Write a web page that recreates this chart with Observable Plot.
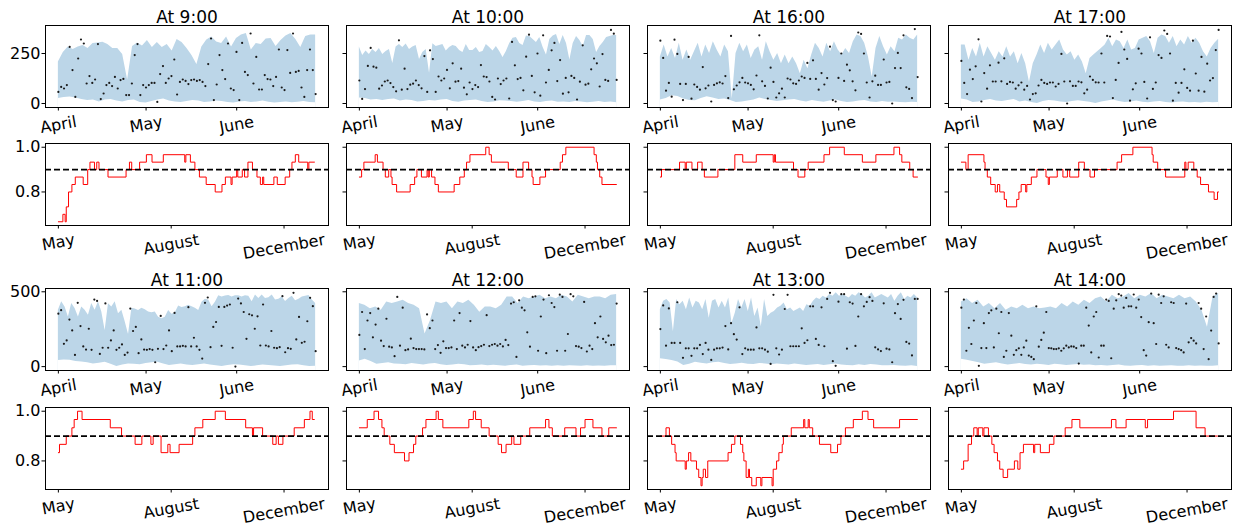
<!DOCTYPE html>
<html><head><meta charset="utf-8">
<script src="https://cdn.jsdelivr.net/npm/d3@7"></script>
<script src="https://cdn.jsdelivr.net/npm/@observablehq/plot@0.6"></script>
<style>
body{margin:0;background:#fff;}
#fig{position:relative;width:1239px;height:532px;overflow:hidden;font-family:"DejaVu Sans";background:#fff;}
#fig svg{position:absolute;overflow:visible;}
</style></head><body><div id="fig"></div>
<script>
// ---------- tick labels ----------
const monthTicks = [0, 30, 61];
const monthLabels = ["April", "May", "June"];
const covTicks = [0, 100, 200];
const covLabels = ["May", "August", "December"];
const bandTitlesTop = ["At 9:00", "At 10:00", "At 16:00", "At 17:00"];
const bandTitlesBottom = ["At 11:00", "At 12:00", "At 13:00", "At 14:00"];
const yTicksTop = [0, 250];
const yTicksBottom = [0, 500];
const covYTicks = [0.8, 1.0];
const covYLabels = ["0.8", "1.0"];
const lastDay = 88;

// ---------- band upper / lower and observed points (counts) ----------
const up900 = [208,255,283,270,283,290,275,300,303,306,295,275,275,245,117,285,302,288,315,280,305,280,295,262,320,305,275,240,195,283,317,333,308,300,333,283,325,342,350,267,300,295,322,325,285,315,338,350,320,280,335,342,342];
const lo900 = [25,30,33,28,20,15,18,8,17,20,12,8,15,17,5,2,10,18,22,12,8,5,10,15,12,5,8,12,10,5,3,8,10,5,8,12,6,3,5,8,4,6,10,5,4];
const pt900 = [58,83,75,92,283,167,33,225,320,300,100,137,103,120,297,22,50,92,103,87,133,75,117,123,42,42,100,242,297,42,92,80,92,103,103,8,147,187,103,125,137,220,45,108,120,113,97,117,120,113,117,108,87,197,325,17,95,242,167,122,300,75,67,258,17,303,158,142,350,100,233,70,70,142,122,120,87,133,270,80,67,267,153,350,158,163,80,33,167,270,167,47];

const up1000 = [283,240,262,245,270,255,275,245,260,270,200,283,295,280,297,270,282,290,220,255,270,151,299,285,290,295,262,280,290,285,265,255,295,265,265,280,255,260,295,280,262,285,260,230,260,300,326,330,300,290,338,335,320,305,330,280,242,320,338,345,295,340,300,217,300,335,315,285,340,340,320,255,285,305,330,335,340,340];
const lo1000 = [28,25,18,20,15,20,22,12,18,15,8,10,15,12,18,20,10,6,12,15,18,10,5,8,14,12,10,6,10,15,8,5,10,12,6,8,5,10,8,4,6,10,5,8,4];
const pt1000 = [115,23,72,188,278,184,179,74,90,110,115,102,82,61,316,69,174,72,94,99,115,92,76,237,58,266,222,58,135,115,125,168,76,201,109,112,174,79,46,105,72,92,82,192,135,132,110,33,20,125,97,115,125,25,308,191,122,128,66,234,344,138,56,250,39,341,105,168,266,303,112,217,49,128,56,138,128,20,109,291,94,99,171,225,201,85,247,118,113,368,349,118];

const up1600 = [233,292,233,275,225,301,216,267,216,259,301,233,292,250,309,267,233,292,259,22,250,301,259,292,225,267,284,216,309,259,216,250,199,242,199,233,199,149,216,174,242,301,275,233,301,259,309,267,242,275,250,309,343,335,301,233,132,275,335,284,242,284,259,326,318,343,326,318,343];
const lo1600 = [17,25,39,35,22,15,14,25,34,28,20,22,15,5,8,12,18,27,20,15,10,14,18,20,12,8,15,10,6,12,18,10,5,8,12,15,8,5,10,6,8,5,4,6,5];
const pt1600 = [314,228,64,103,34,319,248,98,17,98,233,24,95,83,69,182,76,90,10,93,101,106,100,137,27,338,71,90,106,128,105,101,93,71,140,341,111,88,25,179,108,30,51,74,30,125,120,101,98,115,135,128,203,123,216,123,69,152,95,127,284,17,10,128,250,113,194,166,111,66,355,348,250,105,30,111,139,93,93,220,105,108,0,177,253,177,341,81,73,27,372,132];

const up1700 = [292,292,216,275,233,301,233,284,250,216,259,233,284,233,259,199,250,199,106,199,242,292,250,301,267,292,318,267,242,259,216,242,208,149,225,242,259,275,292,326,284,318,309,275,318,267,275,318,326,335,309,250,326,343,335,301,335,284,318,292,335,301,326,301,259,233,275,301,321];
const lo1700 = [22,18,5,8,15,20,12,10,15,20,8,12,5,0,10,15,12,8,5,10,14,10,6,0,8,12,18,10,5,8,12,6,4,8,10,5,3,6,8,4,5,3,6,4,5];
const pt1700 = [213,103,47,169,122,186,321,10,152,74,191,110,110,204,111,226,98,108,105,74,91,105,69,88,20,47,51,90,118,103,98,105,105,85,98,248,110,0,111,88,88,110,106,51,69,135,118,106,105,250,105,338,335,27,118,203,358,270,223,14,71,101,274,250,108,25,331,73,105,242,228,365,348,250,14,103,54,103,171,78,64,314,150,64,233,59,199,115,127,267,368];

const up1100 = [377,433,399,332,422,388,332,399,377,343,422,377,433,365,242,420,399,433,354,377,300,215,390,385,375,390,380,365,360,365,330,320,330,375,350,360,405,395,400,410,400,390,375,430,450,445,400,430,474,466,472,476,466,474,474,466,474,470,433,478,455,478,455,460,478,445,450,466,435,455,470,440,450,466,470,475,445,422];
const lo1100 = [40,45,42,34,30,25,18,22,29,15,0,10,18,15,13,20,25,29,18,7,12,18,10,7,12,18,10,5,0,8,13,10,6,0,5,10,7,4,0,5,10,13,6,0,3];
const pt1100 = [354,377,152,175,314,242,78,426,271,135,114,253,112,448,439,85,126,422,126,175,242,112,126,148,78,94,388,238,265,90,182,114,112,117,112,29,119,339,117,141,242,103,359,135,135,139,135,397,135,193,135,112,54,426,462,130,265,298,399,139,399,408,415,126,0,455,422,365,186,350,343,253,336,141,415,141,135,238,126,123,130,471,96,123,119,493,182,332,159,166,303,460,404,103];

const up1200 = [421,410,387,398,376,432,421,432,443,421,410,387,218,308,432,421,432,387,432,421,443,410,364,398,398,387,410,466,466,421,466,454,466,477,454,466,454,477,466,432,477,466,454,466,466,454,477,482];
const lo1200 = [38,50,34,16,20,25,18,16,12,20,15,11,18,20,12,7,10,16,12,5,8,10,5,9,6,3,8,10,2,5,7,4,6,2,5,3,6,4,2,5,3,4,2,5,5];
const pt1200 = [212,365,117,308,358,196,281,387,173,137,320,133,128,70,466,140,394,110,115,187,124,117,117,117,115,349,257,308,117,144,92,169,124,124,128,308,117,358,140,128,146,304,128,110,130,137,146,344,137,146,151,140,151,135,178,144,421,430,65,443,394,376,229,133,466,470,106,335,448,90,477,425,398,106,481,466,106,218,484,470,137,133,124,432,101,140,117,290,196,335,185,162,207,144,146,421];

const up1300 = [380,437,448,425,233,448,414,437,380,459,391,437,425,380,448,323,437,448,391,437,391,459,290,357,448,391,448,369,459,335,391,267,448,335,357,369,391,403,425,380,391,369,380,391,369,414,403,437,459,448,470,459,482,470,493,470,482,470,459,482,470,493,482,459,470,493,459,470,482,470,459,482,437,470,493,448,470,459,482,459];
const lo1300 = [52,48,41,30,7,15,29,22,18,25,29,20,14,18,23,16,14,20,18,12,18,14,10,18,12,7,10,14,8,12,18,10,7,5,12,8,14,10,6,5,8,4,3,5,0];
const pt1300 = [251,409,140,389,158,158,430,158,59,122,122,72,122,122,145,84,158,113,45,113,122,122,127,271,115,290,217,181,396,84,122,113,113,113,262,122,122,113,100,18,480,122,81,113,385,480,136,136,136,136,256,158,176,403,403,185,145,396,136,452,493,36,5,434,484,484,120,430,421,138,335,484,403,432,464,439,129,115,104,423,120,115,29,357,418,319,446,165,154,75,452,452];

const up1400 = [432,454,421,443,398,421,387,421,376,398,387,410,387,398,387,392,398,387,421,398,432,410,443,421,454,466,432,477,454,466,488,454,477,466,488,454,477,466,454,477,454,466,432,376,263,466,488];
const lo1400 = [50,42,34,25,16,20,25,18,11,15,20,14,11,16,12,8,16,12,7,10,14,9,11,6,8,4,7,10,4,2,6,7,3,5,2,4,6,2,3,5,2,4,3,2,5];
const pt1400 = [394,448,106,259,151,308,425,5,124,290,124,358,376,128,387,223,365,65,106,358,207,79,110,122,79,128,173,74,65,50,403,133,178,227,365,124,122,117,117,122,106,122,140,128,135,133,124,20,140,140,394,274,95,335,365,61,140,140,448,439,56,387,443,484,475,394,459,403,403,482,394,448,331,110,74,297,488,290,151,481,425,470,146,128,430,425,124,117,110,95,421,162,191,173,155,425,387,117,335,50,241,466,488,155];

// ---------- rolling coverage: [index where level starts, level in 30ths] ----------
const cov900 = [[0,20],[4,21],[6,20],[7,22],[9,24],[12,25],[15,26],[22,25],[26,27],[28,28],[32,27],[34,28],[36,27],[44,26],[60,27],[63,28],[65,27],[72,28],[78,29],[83,28],[93,29],[112,28],[113,29],[117,28],[121,27],[125,26],[131,25],[139,24],[145,25],[148,26],[153,25],[154,26],[158,27],[159,26],[163,27],[165,26],[168,28],[172,27],[176,26],[179,25],[181,26],[182,25],[191,26],[194,25],[201,26],[205,27],[207,28],[210,29],[213,28],[221,27],[222,28],[227,28]];
const cov1000 = [[0,26],[2,27],[4,28],[14,29],[16,28],[21,27],[23,26],[26,27],[28,26],[29,25],[33,24],[45,25],[49,26],[51,27],[55,26],[60,27],[61,26],[62,27],[64,26],[67,25],[70,24],[84,25],[89,26],[93,27],[95,28],[98,29],[112,30],[115,29],[117,28],[132,27],[139,26],[145,28],[150,27],[153,26],[154,25],[160,26],[165,27],[178,28],[180,29],[183,30],[208,29],[210,28],[211,27],[213,26],[215,25],[228,25]];
const cov1600 = [[0,26],[1,27],[17,28],[22,27],[23,28],[28,27],[33,28],[37,27],[39,26],[51,27],[66,29],[73,28],[85,29],[100,28],[101,29],[102,28],[118,27],[122,26],[128,27],[131,28],[145,29],[150,30],[163,29],[179,28],[191,29],[207,30],[212,29],[214,28],[221,27],[224,26],[228,26]];
const cov1700 = [[0,28],[4,27],[6,29],[20,28],[21,27],[23,26],[26,25],[30,24],[32,25],[34,24],[38,23],[40,22],[49,23],[51,24],[53,25],[57,24],[58,25],[62,26],[67,27],[75,26],[77,25],[78,26],[85,27],[90,26],[94,27],[96,26],[104,28],[109,27],[114,26],[118,27],[138,28],[142,29],[152,30],[169,29],[170,28],[174,27],[181,26],[198,28],[199,27],[201,28],[206,27],[209,26],[212,25],[219,24],[224,23],[227,24],[228,24]];
const cov1100 = [[0,25],[1,26],[7,27],[12,28],[14,29],[17,30],[21,29],[46,28],[56,27],[68,26],[74,27],[82,26],[84,27],[91,25],[97,26],[99,25],[107,26],[119,27],[121,28],[128,29],[139,30],[148,29],[166,28],[172,27],[173,28],[181,27],[190,26],[193,27],[195,26],[199,27],[209,28],[218,29],[223,30],[225,29],[227,29]];
const cov1200 = [[0,28],[7,29],[13,30],[17,29],[20,28],[22,27],[27,26],[31,25],[40,24],[44,25],[48,26],[50,27],[56,28],[59,29],[68,30],[70,29],[74,28],[97,29],[101,30],[103,29],[108,28],[115,27],[123,26],[126,25],[130,26],[135,27],[137,26],[143,27],[151,28],[165,29],[168,28],[171,27],[182,28],[192,27],[196,28],[200,29],[207,28],[215,27],[221,28],[228,28]];
const cov1300 = [[0,27],[5,28],[8,27],[10,26],[13,25],[14,24],[22,23],[23,24],[25,25],[27,24],[32,23],[34,22],[36,21],[37,22],[38,23],[40,22],[42,24],[60,25],[63,26],[66,27],[71,26],[73,25],[74,24],[76,22],[78,23],[79,22],[81,21],[85,22],[89,21],[90,22],[99,21],[100,23],[103,24],[105,25],[108,26],[109,27],[116,28],[127,29],[128,28],[131,29],[132,28],[135,27],[141,26],[151,25],[157,26],[160,27],[164,28],[171,29],[179,30],[184,29],[189,28],[212,29],[228,29]];
const cov1400 = [[0,23],[2,24],[6,26],[9,27],[11,28],[14,27],[15,28],[19,27],[20,28],[24,27],[27,26],[29,25],[32,24],[34,23],[37,22],[41,23],[47,24],[50,23],[52,25],[55,26],[64,25],[65,26],[70,25],[78,26],[82,27],[92,28],[98,29],[105,28],[133,29],[137,28],[146,29],[163,28],[165,29],[188,30],[208,28],[216,27],[227,27]];
const target = 0.9;

// ---------- layout ----------
const fig = document.getElementById("fig");
const colLeft = [45, 346, 647, 948];
const rowTop = [25, 143, 288, 407];
const boxW = 283, boxH = 82;
const ML = 60, MR = 10, MT = 30, MB = 50;
const FONT = "DejaVu Sans";

const ctx = document.createElement("canvas").getContext("2d");
ctx.font = `16px "${FONT}"`;
const rot = 10 * Math.PI / 180;
function labelDy(s) {
  const w = ctx.measureText(s).width;
  return 5 + (18.6 * Math.cos(rot) + w * Math.sin(rot)) / 2;
}

function spread(arr) {
  return arr.map((v, i) => ({d: i * lastDay / (arr.length - 1), v}));
}

function panel({left, top, xDomain, yDomain, xTicks, xLabels, yTicks, yLabels, showY, title, marks}) {
  const svg = Plot.plot({
    width: ML + boxW + MR, height: MT + boxH + MB,
    marginLeft: ML, marginRight: MR, marginTop: MT, marginBottom: MB,
    x: {domain: xDomain, axis: null},
    y: {domain: yDomain, axis: null},
    style: {fontFamily: FONT, fontSize: "16px", color: "#000", background: "transparent", overflow: "visible"},
    marks: [
      ...marks,
      Plot.frame({stroke: "#000", strokeWidth: 1}),
      Plot.axisX(xTicks, {anchor: "bottom", label: null, tickSize: 3.5, tickFormat: () => "", stroke: "#000"}),
      ...xTicks.map((t, i) => Plot.text([t], {
        x: d => d, text: [xLabels[i]], frameAnchor: "bottom", dy: labelDy(xLabels[i]),
        rotate: -10, textAnchor: "middle", lineAnchor: "middle", fontSize: 16, fill: "#000"
      })),
      Plot.axisY(yTicks, {anchor: "left", label: null, tickSize: 3.5, tickPadding: 1.5, fontSize: 16, stroke: "#000", fill: "#000",
        tickFormat: d => showY ? yLabels[yTicks.indexOf(d)] : ""}),
      title ? Plot.text([title], {text: d => d, frameAnchor: "top", dy: -3, lineAnchor: "bottom", fontSize: 17, fill: "#000"}) : null
    ]
  });
  svg.style.left = (left - ML) + "px";
  svg.style.top = (top - MT) + "px";
  fig.appendChild(svg);
}

function bandPanel(col, row, title, up, lo, pts, yDomain, yTicks) {
  const upD = spread(up), loD = spread(lo), ptD = spread(pts);
  panel({
    left: colLeft[col], top: rowTop[row], xDomain: [-4.4, lastDay + 4.4], yDomain,
    xTicks: monthTicks, xLabels: monthLabels, yTicks, yLabels: yTicks.map(String), showY: col === 0, title,
    marks: [
      Plot.areaY(upD, {x: "d", y1: yDomain[0], y2: "v", fill: "#bcd6e8"}),
      Plot.areaY(loD, {x: "d", y1: yDomain[0], y2: "v", fill: "#ffffff"}),
      Plot.dot(ptD, {x: "d", y: "v", r: 1.1, fill: "#1a1a1a", stroke: null})
    ]
  });
}

function covPanel(col, row, cov, yDomain) {
  const data = cov.map(([i, k]) => ({i, v: k / 30}));
  panel({
    left: colLeft[col], top: rowTop[row], xDomain: [-11.4, 239.4], yDomain,
    xTicks: covTicks, xLabels: covLabels, yTicks: covYTicks, yLabels: covYLabels, showY: col === 0, title: null,
    marks: [
      Plot.line(data, {x: "i", y: "v", stroke: "red", strokeWidth: 1, curve: "step-after"}),
      Plot.ruleY([target], {stroke: "#000", strokeWidth: 1.8, strokeDasharray: "6,3"})
    ]
  });
}

const topDomain = [-20, 390], botDomain = [-26, 522];
const covTopDomain = [0.65, 1.0167], covBotDomain = [0.685, 1.015];

bandPanel(0, 0, bandTitlesTop[0], up900, lo900, pt900, topDomain, yTicksTop);
bandPanel(1, 0, bandTitlesTop[1], up1000, lo1000, pt1000, topDomain, yTicksTop);
bandPanel(2, 0, bandTitlesTop[2], up1600, lo1600, pt1600, topDomain, yTicksTop);
bandPanel(3, 0, bandTitlesTop[3], up1700, lo1700, pt1700, topDomain, yTicksTop);
covPanel(0, 1, cov900, covTopDomain);
covPanel(1, 1, cov1000, covTopDomain);
covPanel(2, 1, cov1600, covTopDomain);
covPanel(3, 1, cov1700, covTopDomain);
bandPanel(0, 2, bandTitlesBottom[0], up1100, lo1100, pt1100, botDomain, yTicksBottom);
bandPanel(1, 2, bandTitlesBottom[1], up1200, lo1200, pt1200, botDomain, yTicksBottom);
bandPanel(2, 2, bandTitlesBottom[2], up1300, lo1300, pt1300, botDomain, yTicksBottom);
bandPanel(3, 2, bandTitlesBottom[3], up1400, lo1400, pt1400, botDomain, yTicksBottom);
covPanel(0, 3, cov1100, covBotDomain);
covPanel(1, 3, cov1200, covBotDomain);
covPanel(2, 3, cov1300, covBotDomain);
covPanel(3, 3, cov1400, covBotDomain);
</script>
</body></html>
